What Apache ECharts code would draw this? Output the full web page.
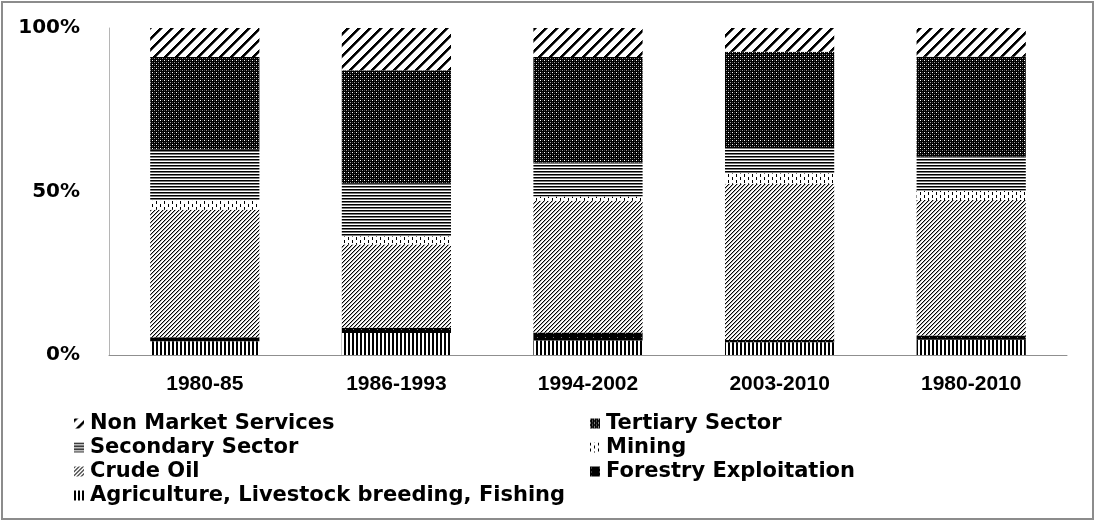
<!DOCTYPE html>
<html>
<head>
<meta charset="utf-8">
<title>Sector shares</title>
<script src="https://cdn.jsdelivr.net/npm/echarts@6/dist/echarts.min.js"></script>
<style>
  html, body { margin: 0; padding: 0; background: #fff; }
  #main { width: 1096px; height: 522px; }
</style>
</head>
<body>
<div id="main"></div>
<script>
// periods on the x axis
const categories = ['1980-85', '1986-1993', '1994-2002', '2003-2010', '1980-2010'];

// shares in percent (bottom to top of each bar)
const agriculture = [4.2, 6.7, 4.4, 3.9, 4.7];
const forestry = [1.2, 1.6, 2.5, 0.7, 1.3];
const crudeOil = [39.0, 25.5, 40.3, 47.8, 41.4];
const mining = [2.8, 2.5, 1.3, 3.2, 2.8];
const secondary = [15.6, 16.1, 10.4, 8.0, 10.6];
const tertiary = [28.3, 34.7, 32.2, 29.1, 30.4];
const nonMarket = [8.9, 12.9, 8.9, 7.3, 8.8];

const yTicks = [0, 50, 100];

// small canvas tiles to imitate the excel fill patterns
function makePattern(w, h, draw) {
  const c = document.createElement('canvas');
  c.width = w;
  c.height = h;
  const ctx = c.getContext('2d');
  ctx.fillStyle = '#fff';
  ctx.fillRect(0, 0, w, h);
  draw(ctx, w, h);
  return { image: c, repeat: 'repeat' };
}

function px(ctx, x, y, color) {
  ctx.fillStyle = color;
  ctx.fillRect(x, y, 1, 1);
}

function diagonal(ctx, w, inks) {
  for (let y = 0; y < w; y++) {
    for (let x = 0; x < w; x++) {
      const ink = inks[(x + y) % w];
      if (ink) px(ctx, x, y, ink);
    }
  }
}

const patterns = {
  // wide upward diagonal
  nonMarket: makePattern(11, 11, (ctx, w) => {
    diagonal(ctx, w, ['#000', '#000', '#000', '#666']);
  }),
  // dark with a grid of light dots
  tertiary: makePattern(4, 4, (ctx) => {
    ctx.fillStyle = '#000';
    ctx.fillRect(0, 0, 4, 4);
    px(ctx, 0, 0, '#fff');
    px(ctx, 2, 2, '#9a9a9a');
    px(ctx, 2, 0, '#444');
    px(ctx, 0, 2, '#444');
  }),
  // narrow horizontal lines
  secondary: makePattern(1, 3, (ctx) => {
    px(ctx, 0, 0, '#000');
    px(ctx, 0, 1, '#7a7a7a');
    px(ctx, 0, 2, '#fff');
  }),
  // small vertical dashes
  mining: makePattern(8, 6, (ctx) => {
    ctx.fillStyle = '#000';
    ctx.fillRect(0, 0, 1, 3);
    ctx.fillRect(4, 3, 1, 3);
  }),
  // light upward diagonal
  crudeOil: makePattern(4, 4, (ctx, w) => {
    diagonal(ctx, w, ['#000', '#a8a8a8']);
  }),
  // almost solid black
  forestry: makePattern(8, 4, (ctx) => {
    ctx.fillStyle = '#000';
    ctx.fillRect(0, 0, 8, 4);
    px(ctx, 1, 1, '#777');
  }),
  // vertical lines
  agriculture: makePattern(4, 1, (ctx) => {
    ctx.fillStyle = '#000';
    ctx.fillRect(0, 0, 2, 1);
  }),
};

const seriesList = [
  { name: 'Agriculture, Livestock breeding, Fishing', data: agriculture, pattern: patterns.agriculture },
  { name: 'Forestry Exploitation', data: forestry, pattern: patterns.forestry },
  { name: 'Crude Oil', data: crudeOil, pattern: patterns.crudeOil },
  { name: 'Mining', data: mining, pattern: patterns.mining },
  { name: 'Secondary Sector', data: secondary, pattern: patterns.secondary },
  { name: 'Tertiary Sector', data: tertiary, pattern: patterns.tertiary },
  { name: 'Non Market Services', data: nonMarket, pattern: patterns.nonMarket },
];

const labelFont = {
  fontFamily: 'DejaVu Sans',
  fontWeight: 'bold',
  fontSize: 20,
  color: '#000',
};

const legendBase = {
  orient: 'vertical',
  icon: 'rect',
  itemWidth: 10,
  itemHeight: 10,
  itemGap: 3,
  selectedMode: false,
  padding: 0,
  textStyle: { ...labelFont, fontSize: 21, padding: [0, 0, 0, 1] },
};

const chart = echarts.init(document.getElementById('main'), null, { renderer: 'canvas' });

chart.setOption({
  animation: false,
  backgroundColor: '#fff',
  grid: {
    left: 109,
    right: 29,
    top: 28,
    bottom: 167,
  },
  legend: [
    {
      ...legendBase,
      left: 74,
      top: 413,
      data: ['Non Market Services', 'Secondary Sector', 'Crude Oil', 'Agriculture, Livestock breeding, Fishing'],
    },
    {
      ...legendBase,
      left: 590,
      top: 413,
      data: ['Tertiary Sector', 'Mining', 'Forestry Exploitation'],
    },
  ],
  xAxis: {
    type: 'category',
    data: categories,
    axisLine: { lineStyle: { color: '#8f8f8f', width: 1 } },
    axisTick: { show: false },
    axisLabel: {
      margin: 19,
      fontFamily: 'Liberation Sans',
      fontWeight: 'bold',
      fontSize: 21,
      color: '#000',
    },
  },
  yAxis: {
    type: 'value',
    min: yTicks[0],
    max: yTicks[yTicks.length - 1],
    interval: yTicks[1] - yTicks[0],
    axisLine: { show: true, lineStyle: { color: '#b5b5b5', width: 1 } },
    axisTick: { show: false },
    splitLine: { show: false },
    axisLabel: {
      ...labelFont,
      margin: 29,
      formatter: '{value}%',
    },
  },
  series: seriesList.map((s) => ({
    name: s.name,
    type: 'bar',
    stack: 'total',
    barWidth: '57%',
    data: s.data,
    itemStyle: { color: s.pattern },
  })),
  graphic: [
    {
      type: 'rect',
      silent: true,
      shape: { x: 2, y: 2, width: 1091, height: 517 },
      style: { fill: 'none', stroke: '#8c8c8c', lineWidth: 2 },
    },
  ],
});
</script>
</body>
</html>
